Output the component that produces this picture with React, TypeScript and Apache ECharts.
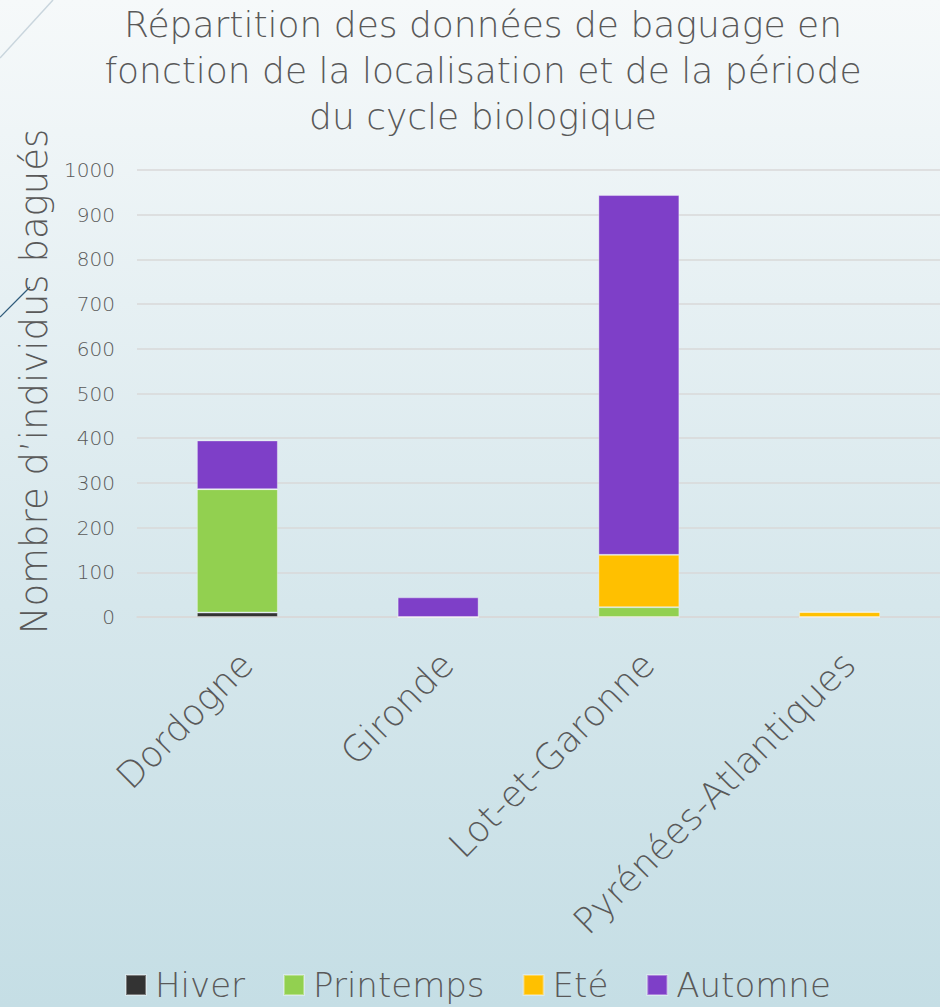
import React, { useEffect, useRef } from "react";
import * as echarts from "echarts";

const titleLines = [
  "Répartition des données de baguage en",
  "fonction de la localisation et de la période",
  "du cycle biologique",
];
const yAxisName = "Nombre d’individus bagués";
const categories = ["Dordogne", "Gironde", "Lot-et-Garonne", "Pyrénées-Atlantiques"];
const seriesNames = ["Hiver", "Printemps", "Eté", "Automne"];
const hiver = [10, 0, 0, 0];
const printemps = [276, 0, 22, 0];
const ete = [0, 0, 117, 11];
const automne = [109, 44, 805, 0];
const colors = ["#333333", "#92d050", "#ffc000", "#7e3fc8"];
const yTicks = { min: 0, max: 1000, interval: 100 };

const FONT = "'DejaVu Sans', sans-serif";
const TEXT = "#595959";

export default function App() {
  const ref = useRef<HTMLDivElement>(null);
  useEffect(() => {
    document.body.style.margin = "0";
    const chart = echarts.init(ref.current!, null, { renderer: "svg" });
    const values = [hiver, printemps, ete, automne];
    chart.setOption({
      animation: false,
      textStyle: { fontFamily: FONT },
      title: {
        text: titleLines.join("\n"),
        left: 478,
        textAlign: "center",
        top: -4,
        textStyle: {
          fontFamily: FONT,
          fontSize: 36,
          fontWeight: 200,
          color: TEXT,
          lineHeight: 46,
        },
      },
      graphic: [
        { type: "line", shape: { x1: 0, y1: 58, x2: 53, y2: 0 }, style: { stroke: "#c9d5dd", lineWidth: 1.5 }, z: -1 },
        { type: "line", shape: { x1: 0, y1: 317, x2: 30, y2: 287 }, style: { stroke: "#2e5a7a", lineWidth: 1.2 }, z: -1 },
      ],
      legend: {
        data: seriesNames,
        left: 125,
        top: 968,
        padding: 0,
        icon: "rect",
        itemWidth: 20,
        itemHeight: 20,
        itemGap: 38,
        textStyle: { fontFamily: FONT, fontSize: 34, lineHeight: 34, color: TEXT, fontWeight: 200, padding: [0, 0, 0, 4] },
      },
      grid: { left: 137, right: -13, top: 170, bottom: 390, containLabel: false },
      xAxis: {
        type: "category",
        data: categories,
        axisLine: { show: true, lineStyle: { color: "#d9d9d9", width: 1.5 } },
        axisTick: { show: false },
        axisLabel: {
          rotate: 45,
          interval: 0,
          margin: 25,
          verticalAlign: "top",
          padding: [0, 5, 0, 0],
          fontFamily: FONT,
          fontSize: 36,
          fontWeight: 200,
          color: TEXT,
        },
      },
      yAxis: {
        type: "value",
        min: yTicks.min,
        max: yTicks.max,
        interval: yTicks.interval,
        name: yAxisName,
        nameLocation: "middle",
        nameGap: 82,
        nameRotate: 90,
        nameTextStyle: { fontFamily: FONT, fontSize: 37, fontWeight: 200, color: TEXT, padding: [0, 0, 0, 24] },
        axisLine: { show: false },
        axisTick: { show: false },
        axisLabel: { fontFamily: FONT, fontSize: 20, fontWeight: 200, color: TEXT, margin: 22, formatter: (v: number) => String(v) },
        splitLine: { lineStyle: { color: "#d9d9d9", width: 1.5 } },
      },
      series: seriesNames.map((name, i) => ({
        name,
        type: "bar",
        stack: "total",
        data: values[i],
        barWidth: 81,
        itemStyle: { color: colors[i], borderColor: "rgba(255,255,255,0.35)", borderWidth: 1 },
      })),
    });
    return () => chart.dispose();
  }, []);
  return (
    <div
      ref={ref}
      style={{
        position: "fixed",
        left: 0,
        top: 0,
        width: 940,
        height: 1007,
        background: "linear-gradient(to bottom, #f6f9fa 0%, #d6e7ec 60%, #c5dee5 100%)",
      }}
    />
  );
}
